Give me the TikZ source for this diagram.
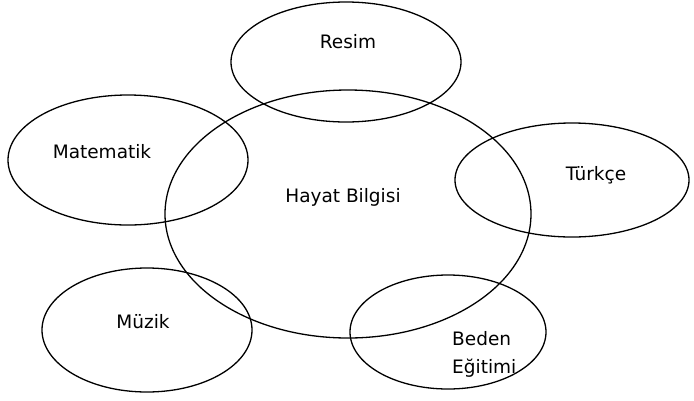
\documentclass[tikz,border=0pt]{standalone}
\usepackage{fontspec}
\setmainfont{DejaVu Sans}
\begin{document}
\begin{tikzpicture}[x=1pt,y=-1pt,
  ring/.style={draw=black,line width=1.3pt},
  lbl/.style={font=\fontsize{18.5}{28}\selectfont,inner sep=0pt,align=center}]
\useasboundingbox (0,0) rectangle (694,400);
\draw[ring] (348,214) ellipse [x radius=183,y radius=124];
\draw[ring] (346,62) ellipse [x radius=115,y radius=60];
\draw[ring] (128,160) ellipse [x radius=120,y radius=65];
\draw[ring] (572,180) ellipse [x radius=117,y radius=57];
\draw[ring] (147,330) ellipse [x radius=105,y radius=62];
\draw[ring] (448,332) ellipse [x radius=98,y radius=57];
\node[lbl] (hb) at (343,197) {Hayat Bilgisi};
\node[lbl] (re) at (348,42) {Resim};
\node[lbl] (ma) at (102,152) {Matematik};
\node[lbl] (tu) at (596,175) {Türkçe};
\node[lbl] (mu) at (143,322) {Müzik};
\node[lbl,align=left,anchor=west] (be) at (452,354) {Beden\\Eğitimi};
\end{tikzpicture}
\end{document}
